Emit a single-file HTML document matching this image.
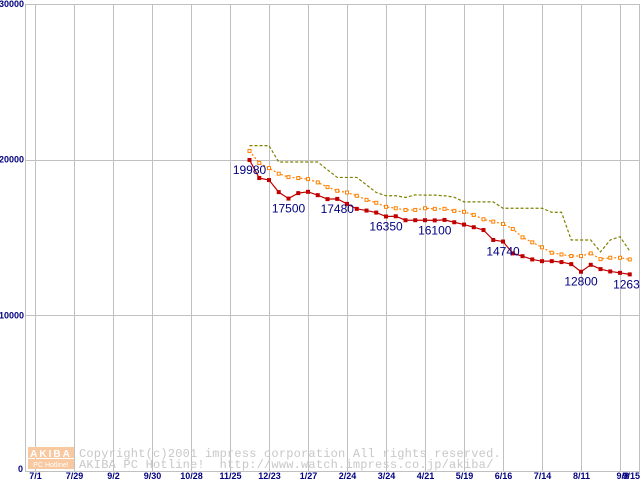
<!DOCTYPE html>
<html><head><meta charset="utf-8"><style>
html,body{margin:0;padding:0;background:#fff;}
svg{display:block;}
text{font-family:"Liberation Sans",sans-serif;}
</style></head><body>
<svg id="chart" width="640" height="480" viewBox="0 0 640 480">
<g id="grid"></g>
<g id="wm">
  <rect x="28" y="447" width="46" height="11" fill="#f8c8a0"/>
  <text x="51" y="457" font-size="10" fill="#fff" text-anchor="middle" font-weight="bold" letter-spacing="2">AKIBA</text>
  <rect x="28" y="459" width="46" height="10" fill="#f8c8a0"/>
  <text x="51" y="467" font-size="7" fill="#fff" text-anchor="middle">PC Hotline!</text>
  <text x="79" y="457" font-size="12" fill="#c8c8c8" style="font-family:'Liberation Mono',monospace" letter-spacing="0.2">Copyright(c)2001 impress corporation All rights reserved.</text>
  <text x="79" y="468" font-size="12" fill="#c8c8c8" style="font-family:'Liberation Mono',monospace;white-space:pre" xml:space="preserve" letter-spacing="0.2">AKIBA PC Hotline!  http://www.watch.impress.co.jp/akiba/</text>
</g>
<g id="series"></g>
</svg>
<script>
const xTickLabels=["7/1","7/29","9/2","9/30","10/28","11/25","12/23","1/27","2/24","3/24","4/21","5/19","6/16","7/14","8/11","9/8","9/15"];
const yTicks=[0,10000,20000,30000];
const minPrice=[19980,18820,18690,17915,17500,17850,17935,17720,17465,17480,17160,16840,16730,16600,16350,16365,16110,16110,16110,16100,16130,15980,15830,15660,15480,14840,14740,13980,13800,13590,13480,13480,13420,13290,12800,13245,12970,12820,12730,12630];
const avgPrice=[20560,19790,19460,19100,18880,18820,18750,18540,18240,18000,17890,17680,17420,17230,16970,16880,16770,16770,16880,16840,16840,16710,16650,16450,16170,16020,15870,15550,15010,14690,14370,14020,13910,13810,13810,13980,13610,13700,13700,13590];
const maxPrice=[20900,20900,20900,19850,19850,19850,19850,19850,19350,18860,18860,18860,18380,17890,17680,17680,17570,17740,17720,17720,17680,17590,17290,17290,17290,17290,16880,16880,16880,16880,16880,16620,16620,14840,14840,14840,14080,14840,15050,14130];
const labelIdx=[0,4,9,14,19,26,34,39];
const NS="http://www.w3.org/2000/svg";
const yOf=v=>471-v*(467/30000);
const xOf=i=>249.5+i*9.75;
function mk(tag,attrs,parent){const e=document.createElementNS(NS,tag);for(const k in attrs)e.setAttribute(k,attrs[k]);parent.appendChild(e);return e;}
const grid=document.getElementById('grid');
yTicks.forEach(v=>{
  const y=Math.round(yOf(v))+0.5;
  const l=mk('line',{x1:25,x2:640,y1:y,y2:y,stroke:'#c0c0c0','stroke-width':1},grid);
  
  
  const t=mk('text',{x:v===0?23:24,y:v===0?yOf(v)+1:yOf(v)+3,'font-size':9,fill:'#000080','text-anchor':'end','font-weight':'bold'},grid);
  t.textContent=v;
  
  
});
const ax=mk('line',{x1:25.5,x2:25.5,y1:4,y2:471,stroke:'#c0c0c0','stroke-width':1},grid);


xTickLabels.forEach((s,k)=>{
  const x=(k<16?35+39*k:639)+0.5;
  const l=mk('line',{x1:x,x2:x,y1:4,y2:471,stroke:'#c0c0c0','stroke-width':1},grid);
  
  
  const t=mk('text',{x:k===16?640:(k===15?629:x),y:479,'font-size':9,fill:'#000080','text-anchor':k>=15?'end':'middle','font-weight':'bold'},grid);
  t.textContent=s;
  
  
});
const ser=document.getElementById('series');
function pts(arr){return arr.map((v,i)=>xOf(i)+','+yOf(v)).join(' ');}
const pMax=mk('polyline',{points:pts(maxPrice),fill:'none',stroke:'#808000','stroke-width':1.2,'stroke-dasharray':'3,2'},ser);


const pAvg=mk('polyline',{points:pts(avgPrice),fill:'none',stroke:'#ff8000','stroke-width':1.2,'stroke-dasharray':'2,2'},ser);


avgPrice.forEach((v,i)=>{
  const r=mk('rect',{x:xOf(i)-1.5,y:yOf(v)-1.5,width:3,height:3,fill:'#fff',stroke:'#ff8000','stroke-width':1},ser);
  
  
});
const pMin=mk('polyline',{points:pts(minPrice),fill:'none',stroke:'#c00000','stroke-width':1.2},ser);


minPrice.forEach((v,i)=>{
  const r=mk('rect',{x:xOf(i)-2,y:yOf(v)-2,width:4,height:4,fill:'#c00000'},ser);
  
  
});
labelIdx.forEach(i=>{
  const t=mk('text',{x:xOf(i),y:yOf(minPrice[i])+14,'font-size':12,fill:'#000080','text-anchor':'middle'},ser);
  t.textContent=minPrice[i];
  
  
});
</script>
</body></html>
